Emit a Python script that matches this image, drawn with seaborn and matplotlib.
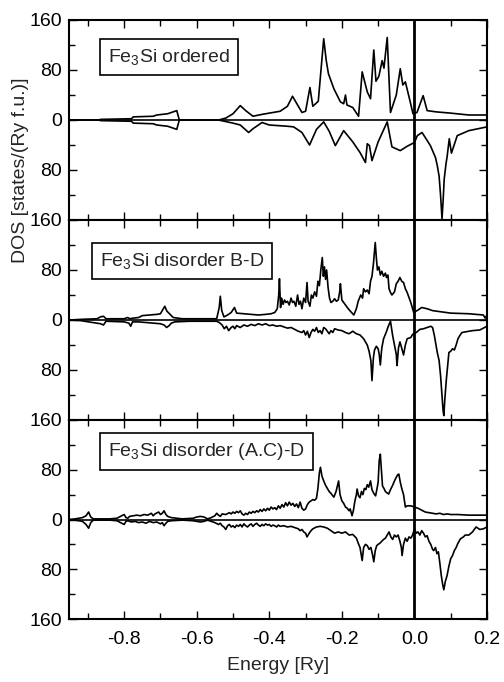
import numpy as np
import pandas as pd
import matplotlib
matplotlib.use("Agg")
import matplotlib.pyplot as plt
from matplotlib.ticker import MultipleLocator, FixedLocator
import seaborn as sns

# ---------------- data: (energy [Ry], DOS) ----------------
titles = [r"Fe$_3$Si ordered", r"Fe$_3$Si disorder B-D", r"Fe$_3$Si disorder (A.C)-D"]

# Panel 1: ordered, spin up / spin down (down magnitudes, drawn below zero)
ord_up = [(-0.95, 0), (-0.87, 0), (-0.865, 1), (-0.78, 2), (-0.775, 5), (-0.72, 6), (-0.71, 8), (-0.68, 10),
          (-0.66, 14), (-0.655, 15), (-0.648, 0), (-0.54, 0), (-0.52, 3), (-0.50, 10), (-0.48, 23), (-0.465, 15),
          (-0.445, 6), (-0.42, 9), (-0.40, 11), (-0.37, 14), (-0.35, 22), (-0.336, 38), (-0.31, 12), (-0.30, 14),
          (-0.288, 52), (-0.28, 22), (-0.265, 30), (-0.25, 130), (-0.243, 95), (-0.237, 74), (-0.222, 50),
          (-0.204, 29), (-0.195, 26), (-0.19, 40), (-0.186, 24), (-0.17, 20), (-0.154, 6), (-0.144, 77),
          (-0.13, 45), (-0.121, 34), (-0.112, 112), (-0.106, 62), (-0.098, 70), (-0.089, 95), (-0.084, 83),
          (-0.075, 132), (-0.066, 12), (-0.05, 40), (-0.039, 82), (-0.032, 56), (-0.025, 61), (-0.012, 30),
          (-0.004, 10), (0.007, 12), (0.024, 39), (0.035, 15), (0.06, 13), (0.1, 11), (0.15, 8), (0.2, 8)]
ord_dn = [(-0.95, 0), (-0.87, 0), (-0.865, 1), (-0.78, 2), (-0.775, 5), (-0.72, 6), (-0.71, 8), (-0.68, 10),
          (-0.66, 14), (-0.655, 15), (-0.648, 0), (-0.54, 0), (-0.5, 5), (-0.48, 8), (-0.457, 20), (-0.445, 14),
          (-0.42, 4), (-0.40, 8), (-0.35, 10), (-0.333, 11), (-0.31, 20), (-0.289, 40), (-0.27, 15), (-0.25, 3),
          (-0.235, 18), (-0.218, 41), (-0.195, 17), (-0.17, 35), (-0.15, 52), (-0.135, 68), (-0.13, 38),
          (-0.124, 41), (-0.117, 65), (-0.1, 35), (-0.075, 3), (-0.062, 43), (-0.039, 49), (-0.02, 42),
          (0.0, 36), (0.008, 25), (0.021, 20), (0.032, 30), (0.044, 41), (0.058, 60), (0.063, 73), (0.068, 90),
          (0.072, 120), (0.076, 158), (0.079, 130), (0.082, 95), (0.087, 70), (0.09, 59), (0.096, 30),
          (0.102, 53), (0.118, 25), (0.15, 17), (0.2, 11)]

# Panel 2: disorder B-D
bd_up = [(-0.95, 0), (-0.92, 1), (-0.875, 2), (-0.865, 5), (-0.857, 6), (-0.85, 2), (-0.80, 2), (-0.79, 4),
         (-0.785, 2), (-0.775, 3), (-0.76, 4), (-0.75, 7), (-0.73, 8), (-0.71, 9), (-0.70, 10), (-0.695, 15),
         (-0.688, 22), (-0.682, 14), (-0.675, 10), (-0.665, 4), (-0.64, 2), (-0.60, 2), (-0.545, 2),
         (-0.538, 20), (-0.535, 38), (-0.531, 15), (-0.525, 5), (-0.515, 8), (-0.505, 12), (-0.496, 20),
         (-0.49, 11), (-0.47, 10), (-0.45, 9), (-0.43, 8), (-0.41, 9), (-0.395, 10), (-0.385, 12), (-0.378, 18),
         (-0.374, 40), (-0.372, 66), (-0.369, 20), (-0.366, 35), (-0.362, 25), (-0.358, 32), (-0.354, 28),
         (-0.35, 30), (-0.345, 24), (-0.34, 35), (-0.336, 28), (-0.332, 30), (-0.327, 22), (-0.322, 40),
         (-0.318, 25), (-0.314, 30), (-0.31, 18), (-0.305, 35), (-0.3, 28), (-0.296, 60), (-0.293, 30),
         (-0.288, 22), (-0.284, 40), (-0.28, 35), (-0.275, 45), (-0.27, 38), (-0.266, 62), (-0.262, 55),
         (-0.258, 80), (-0.254, 100), (-0.251, 70), (-0.248, 85), (-0.245, 65), (-0.242, 80), (-0.238, 52),
         (-0.234, 35), (-0.23, 28), (-0.225, 30), (-0.22, 34), (-0.215, 30), (-0.21, 32), (-0.206, 45),
         (-0.204, 58), (-0.2, 32), (-0.195, 28), (-0.185, 20), (-0.178, 15), (-0.17, 10), (-0.167, 8),
         (-0.16, 18), (-0.155, 30), (-0.148, 40), (-0.143, 35), (-0.14, 50), (-0.135, 45), (-0.13, 48),
         (-0.125, 42), (-0.121, 62), (-0.117, 70), (-0.113, 90), (-0.11, 110), (-0.108, 124), (-0.105, 100),
         (-0.102, 80), (-0.098, 85), (-0.094, 72), (-0.09, 78), (-0.085, 70), (-0.08, 75), (-0.077, 68),
         (-0.073, 72), (-0.07, 50), (-0.066, 44), (-0.062, 40), (-0.055, 45), (-0.05, 58), (-0.045, 62),
         (-0.04, 68), (-0.035, 62), (-0.03, 60), (-0.025, 50), (-0.02, 44), (-0.01, 28), (-0.002, 12),
         (0.01, 16), (0.02, 20), (0.035, 18), (0.05, 15), (0.1, 11), (0.15, 10), (0.19, 8), (0.195, 3),
         (0.2, 8)]
bd_dn = [(-0.95, 0), (-0.92, 1), (-0.865, 6), (-0.857, 8), (-0.85, 2), (-0.80, 3), (-0.787, 5), (-0.782, 10),
         (-0.777, 3), (-0.76, 3), (-0.74, 4), (-0.72, 5), (-0.70, 6), (-0.69, 8), (-0.683, 12), (-0.676, 9),
         (-0.67, 5), (-0.66, 3), (-0.62, 2), (-0.545, 2), (-0.538, 4), (-0.53, 8), (-0.524, 14), (-0.518, 10),
         (-0.512, 17), (-0.505, 12), (-0.50, 10), (-0.495, 14), (-0.49, 9), (-0.48, 12), (-0.47, 8),
         (-0.46, 10), (-0.45, 7), (-0.44, 9), (-0.43, 6), (-0.42, 8), (-0.41, 6), (-0.40, 9), (-0.39, 8),
         (-0.38, 10), (-0.37, 9), (-0.36, 11), (-0.35, 13), (-0.34, 12), (-0.33, 15), (-0.32, 18), (-0.31, 20),
         (-0.305, 17), (-0.30, 24), (-0.295, 18), (-0.29, 28), (-0.285, 20), (-0.28, 15), (-0.275, 18),
         (-0.27, 12), (-0.265, 20), (-0.26, 17), (-0.255, 22), (-0.25, 12), (-0.245, 14), (-0.24, 18),
         (-0.235, 22), (-0.23, 17), (-0.225, 20), (-0.22, 14), (-0.21, 16), (-0.2, 17), (-0.19, 20),
         (-0.18, 22), (-0.17, 18), (-0.16, 22), (-0.15, 24), (-0.14, 30), (-0.13, 40), (-0.125, 50),
         (-0.12, 65), (-0.117, 97), (-0.113, 60), (-0.11, 48), (-0.105, 42), (-0.1, 46), (-0.097, 55),
         (-0.094, 72), (-0.09, 45), (-0.085, 30), (-0.078, 20), (-0.072, 10), (-0.066, 2), (-0.06, 25),
         (-0.055, 40), (-0.05, 55), (-0.048, 73), (-0.044, 45), (-0.04, 35), (-0.035, 45), (-0.03, 56),
         (-0.025, 40), (-0.02, 30), (-0.01, 28), (-0.005, 23), (0.005, 20), (0.015, 15), (0.025, 14),
         (0.035, 12), (0.045, 10), (0.05, 12), (0.055, 25), (0.063, 52), (0.068, 65), (0.072, 89), (0.076, 120),
         (0.079, 145), (0.081, 153), (0.084, 125), (0.088, 95), (0.092, 70), (0.095, 52), (0.1, 50),
         (0.105, 46), (0.11, 48), (0.115, 40), (0.12, 30), (0.125, 25), (0.131, 20), (0.14, 19), (0.15, 18),
         (0.16, 17), (0.18, 16), (0.19, 13), (0.2, 10)]

# Panel 3: disorder (A.C)-D
ac_up = [(-0.95, 0), (-0.935, 1), (-0.915, 3), (-0.905, 6), (-0.898, 12), (-0.892, 4), (-0.885, 1),
         (-0.84, 1), (-0.82, 2), (-0.81, 5), (-0.80, 8), (-0.795, 3), (-0.79, 2), (-0.785, 5), (-0.775, 6),
         (-0.765, 7), (-0.755, 6), (-0.745, 8), (-0.735, 7), (-0.725, 10), (-0.72, 6), (-0.715, 9),
         (-0.705, 12), (-0.70, 8), (-0.695, 10), (-0.69, 14), (-0.685, 8), (-0.68, 5), (-0.67, 3), (-0.64, 1),
         (-0.61, 2), (-0.60, 4), (-0.59, 5), (-0.58, 4), (-0.57, 1), (-0.56, 3), (-0.55, 6), (-0.545, 10),
         (-0.54, 7), (-0.535, 5), (-0.53, 9), (-0.52, 8), (-0.51, 11), (-0.505, 9), (-0.50, 12), (-0.495, 10),
         (-0.49, 13), (-0.485, 11), (-0.48, 14), (-0.475, 9), (-0.47, 7), (-0.465, 10), (-0.46, 8),
         (-0.455, 12), (-0.45, 10), (-0.445, 13), (-0.44, 11), (-0.435, 14), (-0.43, 12), (-0.425, 16),
         (-0.42, 13), (-0.415, 17), (-0.41, 14), (-0.405, 18), (-0.40, 15), (-0.395, 20), (-0.39, 17),
         (-0.385, 19), (-0.38, 16), (-0.375, 22), (-0.37, 18), (-0.365, 24), (-0.36, 20), (-0.355, 27),
         (-0.35, 22), (-0.345, 28), (-0.34, 23), (-0.335, 26), (-0.33, 21), (-0.325, 25), (-0.32, 19),
         (-0.315, 28), (-0.31, 18), (-0.305, 15), (-0.30, 17), (-0.295, 24), (-0.29, 28), (-0.285, 30),
         (-0.28, 32), (-0.275, 31), (-0.27, 34), (-0.266, 50), (-0.262, 75), (-0.259, 84), (-0.255, 70),
         (-0.25, 62), (-0.245, 55), (-0.24, 50), (-0.235, 45), (-0.23, 42), (-0.225, 38), (-0.222, 36),
         (-0.216, 45), (-0.212, 55), (-0.209, 62), (-0.205, 40), (-0.2, 30), (-0.195, 26), (-0.19, 20),
         (-0.185, 18), (-0.18, 14), (-0.177, 17), (-0.174, 10), (-0.172, 6), (-0.168, 15), (-0.164, 30),
         (-0.16, 40), (-0.158, 49), (-0.154, 38), (-0.15, 35), (-0.146, 45), (-0.142, 40), (-0.138, 50),
         (-0.134, 48), (-0.13, 56), (-0.126, 52), (-0.121, 62), (-0.117, 48), (-0.112, 42), (-0.107, 38),
         (-0.103, 50), (-0.1, 60), (-0.097, 95), (-0.094, 105), (-0.091, 80), (-0.088, 54), (-0.084, 50),
         (-0.08, 45), (-0.076, 43), (-0.071, 41), (-0.066, 48), (-0.06, 55), (-0.055, 62), (-0.05, 68),
         (-0.046, 72), (-0.043, 73), (-0.039, 60), (-0.035, 50), (-0.03, 40), (-0.025, 20), (-0.02, 22),
         (-0.01, 22), (0.0, 20), (0.01, 18), (0.02, 15), (0.03, 12), (0.04, 11), (0.05, 10), (0.06, 9),
         (0.07, 10), (0.08, 8), (0.09, 9), (0.1, 8), (0.12, 8), (0.15, 7), (0.2, 7)]
ac_dn = [(-0.95, 0), (-0.935, 1), (-0.915, 3), (-0.905, 8), (-0.898, 14), (-0.892, 5), (-0.885, 1),
         (-0.84, 1), (-0.82, 2), (-0.81, 5), (-0.80, 8), (-0.795, 3), (-0.79, 2), (-0.78, 4), (-0.77, 3),
         (-0.76, 5), (-0.75, 4), (-0.74, 6), (-0.73, 3), (-0.72, 5), (-0.71, 4), (-0.70, 7), (-0.695, 5),
         (-0.69, 10), (-0.685, 6), (-0.68, 3), (-0.67, 2), (-0.64, 1), (-0.61, 2), (-0.60, 3), (-0.59, 4),
         (-0.58, 3), (-0.57, 1), (-0.56, 3), (-0.55, 5), (-0.54, 8), (-0.535, 6), (-0.53, 10), (-0.525, 12),
         (-0.52, 16), (-0.515, 10), (-0.51, 8), (-0.505, 12), (-0.50, 10), (-0.495, 13), (-0.49, 9),
         (-0.485, 11), (-0.48, 8), (-0.475, 12), (-0.47, 7), (-0.465, 10), (-0.46, 12), (-0.455, 9),
         (-0.45, 7), (-0.445, 11), (-0.44, 8), (-0.435, 6), (-0.43, 9), (-0.425, 11), (-0.42, 8), (-0.415, 10),
         (-0.41, 7), (-0.405, 9), (-0.40, 8), (-0.395, 11), (-0.39, 9), (-0.385, 10), (-0.38, 12),
         (-0.375, 9), (-0.37, 11), (-0.36, 10), (-0.35, 12), (-0.34, 11), (-0.33, 13), (-0.32, 15),
         (-0.315, 18), (-0.31, 16), (-0.305, 20), (-0.30, 22), (-0.296, 28), (-0.29, 22), (-0.285, 18),
         (-0.28, 15), (-0.27, 12), (-0.26, 11), (-0.25, 12), (-0.24, 14), (-0.23, 18), (-0.22, 22), (-0.21, 20),
         (-0.2, 22), (-0.19, 20), (-0.18, 25), (-0.17, 24), (-0.16, 30), (-0.155, 38), (-0.15, 45),
         (-0.147, 55), (-0.144, 66), (-0.14, 45), (-0.135, 40), (-0.13, 42), (-0.125, 48), (-0.12, 45),
         (-0.115, 58), (-0.112, 68), (-0.108, 50), (-0.104, 42), (-0.1, 40), (-0.095, 38), (-0.09, 35),
         (-0.085, 32), (-0.08, 30), (-0.075, 25), (-0.07, 20), (-0.065, 28), (-0.06, 32), (-0.055, 25),
         (-0.05, 28), (-0.045, 25), (-0.04, 35), (-0.036, 45), (-0.034, 58), (-0.03, 40), (-0.025, 30),
         (-0.02, 35), (-0.015, 28), (-0.01, 30), (-0.005, 25), (0.0, 15), (0.005, 22), (0.01, 20), (0.015, 25),
         (0.02, 18), (0.025, 22), (0.03, 28), (0.035, 26), (0.04, 35), (0.045, 40), (0.05, 48), (0.053, 50),
         (0.058, 45), (0.062, 55), (0.066, 52), (0.07, 70), (0.074, 90), (0.078, 105), (0.081, 113),
         (0.085, 100), (0.09, 90), (0.095, 75), (0.1, 63), (0.105, 58), (0.11, 50), (0.115, 45), (0.12, 38),
         (0.127, 31), (0.135, 28), (0.14, 25), (0.15, 25), (0.16, 20), (0.17, 12), (0.18, 16), (0.19, 15),
         (0.2, 12)]

panels = [(ord_up, ord_dn), (bd_up, bd_dn), (ac_up, ac_dn)]

ytick_vals = [-160, -80, 0, 80, 160]
ytick_text = ["160", "80", "0", "80", "160"]
xtick_vals = [-0.8, -0.6, -0.4, -0.2, 0.0, 0.2]
xtick_text = ["-0.8", "-0.6", "-0.4", "-0.2", "0.0", "0.2"]

# ---------------- style ----------------
sns.set_style("ticks")
plt.rcParams["font.family"] = ["Liberation Sans", "DejaVu Sans"]
plt.rcParams["mathtext.fontset"] = "custom"
plt.rcParams["mathtext.rm"] = "Liberation Sans"
plt.rcParams["mathtext.it"] = "Liberation Sans:italic"
plt.rcParams["mathtext.bf"] = "Liberation Sans:bold"

FS = 14
fig = plt.figure(figsize=(5.04, 6.82), dpi=100)
W, H = 504.0, 682.0
left_px, right_px = 69, 487
tops = [20, 220, 420]
bots = [220, 420, 619]
text_pos = [(0.093, 0.815), (0.074, 0.795), (0.093, 0.8425)]

for i in range(3):
    ax = fig.add_axes([left_px / W, 1 - bots[i] / H, (right_px - left_px) / W, (bots[i] - tops[i]) / H])
    up, dn = panels[i]
    df_up = pd.DataFrame(up, columns=["E", "DOS"])
    df_dn = pd.DataFrame(dn, columns=["E", "DOS"])
    df_dn["DOS"] = -df_dn["DOS"].astype(float)
    sns.lineplot(data=df_up, x="E", y="DOS", ax=ax, color="black", lw=1.2, estimator=None, sort=False)
    sns.lineplot(data=df_dn, x="E", y="DOS", ax=ax, color="black", lw=1.2, estimator=None, sort=False)
    ax.axhline(0, color="black", lw=1.2, zorder=1)
    ax.axvline(0.0, color="black", lw=2.0, zorder=3)
    ax.set_xlim(-0.952, 0.2)
    ax.set_ylim(-160, 160)
    ax.xaxis.set_major_locator(FixedLocator(xtick_vals))
    ax.xaxis.set_minor_locator(MultipleLocator(0.1))
    ax.yaxis.set_major_locator(FixedLocator(ytick_vals))
    ax.yaxis.set_minor_locator(MultipleLocator(40))
    lbl = list(ytick_text)
    if i < 2:
        lbl[0] = ""
    ax.set_yticklabels(lbl)
    if i == 2:
        ax.set_xticklabels(xtick_text)
    else:
        ax.set_xticklabels([])
    ax.tick_params(which="both", direction="in", top=True, right=True, width=1.0, labelsize=FS,
                   colors="black")
    ax.tick_params(which="major", length=6, pad=5)
    ax.tick_params(which="minor", length=4)
    ax.tick_params(axis="x", which="major", pad=9)
    for s in ax.spines.values():
        s.set_linewidth(1.5)
        s.set_color("black")
    ax.set_xlabel("")
    ax.set_ylabel("")
    ax.text(text_pos[i][0], text_pos[i][1], titles[i], transform=ax.transAxes, fontsize=FS,
            ha="left", va="center",
            bbox=dict(boxstyle="square,pad=0.42", facecolor="white", edgecolor="black", lw=1.2))

fig.text(21 / W, 1 - 170 / H, "DOS [states/(Ry f.u.)]", rotation=90, ha="center", va="center", fontsize=FS)
fig.text(278 / W, 1 - 666 / H, "Energy [Ry]", ha="center", va="center", fontsize=FS)

fig.savefig("out.png", dpi=100)
